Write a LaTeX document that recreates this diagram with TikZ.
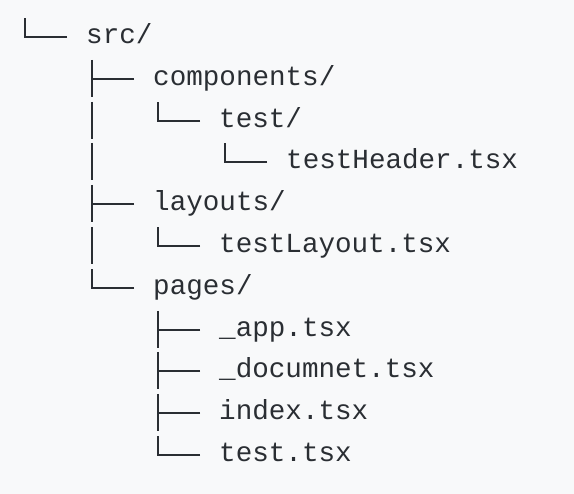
\documentclass[tikz,border=0pt]{standalone}
\usepackage{fontspec}
\newfontfamily\treefont{Liberation Mono}
\usetikzlibrary{calc}
\definecolor{pagebg}{HTML}{F8F9FA}
\definecolor{ink}{HTML}{2A2E33}

\tikzset{
  entry/.style={anchor=base west, inner sep=0pt, text=ink, font=\treefont\fontsize{27.6}{33}\selectfont},
  branch/.style={draw=ink, line width=2pt}
}

\begin{document}
\begin{tikzpicture}[x=1pt, y=-1pt]
            \fill[pagebg] (0,0) rectangle (574,494);
            \useasboundingbox (0,0) rectangle (574,494);
            % entries, one per row
            \node[entry] (src)   at (86,43.3)   {src/};
            \node[entry] (comp)  at (153,85.3)  {components/};
            \node[entry] (test)  at (219,127.3) {test/};
            \node[entry] (hdr)   at (286,168.3) {testHeader.tsx};
            \node[entry] (lay)   at (153,210.3) {layouts/};
            \node[entry] (tlay)  at (219,252.3) {testLayout.tsx};
            \node[entry] (pages) at (153,294.3) {pages/};
            \node[entry] (app)   at (219,336.3) {\_app.tsx};
            \node[entry] (doc)   at (219,377.3) {\_documnet.tsx};
            \node[entry] (idx)   at (219,419.3) {index.tsx};
            \node[entry] (tst)   at (219,461.3) {test.tsx};
            % last children
            \foreach \n in {src,test,hdr,tlay,pages,tst}
                \draw[branch] ($(\n.base west)+(-19,-6.3)$) -| ++(-42,-19);
            % middle children
            \foreach \n in {comp,lay,app,doc,idx}
                \draw[branch] ($(\n.base west)+(-19,-6.3)$) -- ++(-42,0) ++(0,-19) -- ++(0,37);
            % pass-through bars
            \draw[branch] ($(comp.base west |- test.base west)+(-61,-25.3)$) -- ++(0,37);
            \draw[branch] ($(comp.base west |- hdr.base west)+(-61,-25.3)$) -- ++(0,37);
            \draw[branch] ($(lay.base west |- tlay.base west)+(-61,-25.3)$) -- ++(0,37);
        \end{tikzpicture}
\end{document}
